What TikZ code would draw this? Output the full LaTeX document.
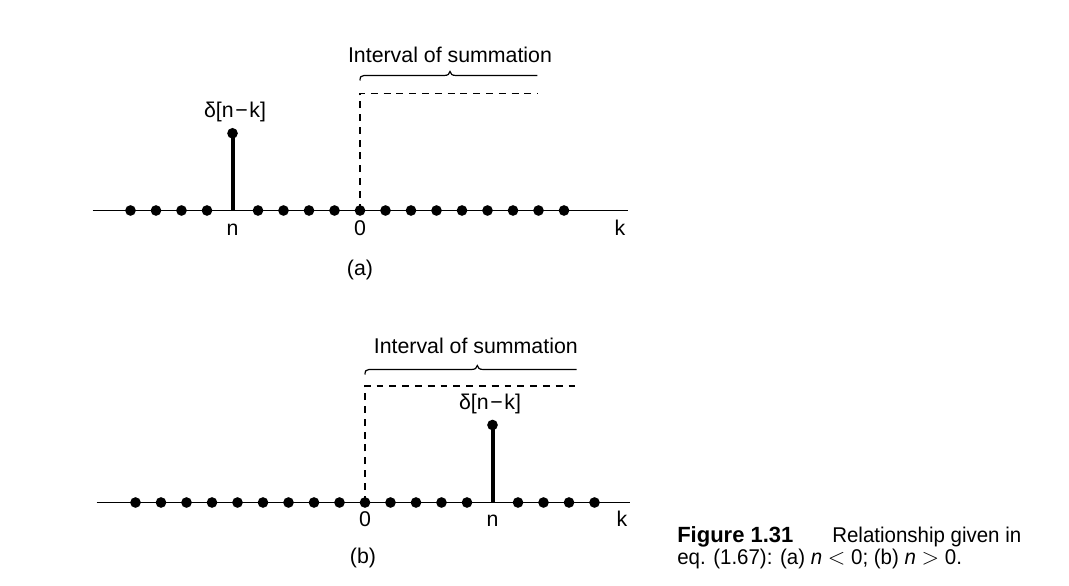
\documentclass[tikz,border=0pt]{standalone}
\usepackage{fontspec}
\setmainfont{Liberation Sans}
\newfontfamily\capfont[FakeStretch=0.96]{Liberation Sans}
\begin{document}
\begin{tikzpicture}[x=0.75pt,y=-0.75pt,
  axis/.style={line width=1.1pt},
  dot/.style={circle,fill=black,inner sep=0pt,minimum size=8pt},
  stemline/.style={line width=3pt},
  dashline/.style={line width=0.9pt,dash pattern=on 5.2pt off 4.4pt},
  braceline/.style={line width=0.9pt},
  lab/.style={font=\fontsize{16}{19}\selectfont,inner sep=0pt},
  capreg/.style={font=\fontsize{16}{19}\capfont,inner sep=0pt,anchor=base west},
  capbold/.style={font=\fontsize{16.5}{19}\selectfont\bfseries,inner sep=0pt,anchor=base west},
]
\useasboundingbox (0,0) rectangle (1069,585);

% ---------------- panel (a) ----------------
\coordinate (aL) at (92.7,210.5);
\coordinate (aR) at (628,210.5);
\draw[axis] (aL) -- (aR);
\foreach \k in {-9,...,8}{
  \ifnum\k=-5\relax\else
    \node[dot] (ad\k) at ({360+25.5*\k},210.5) {};
  \fi
}
\coordinate (astemb) at (232.5,210.5);
\node[dot] (astem) at (232.5,133.3) {};
\draw[stemline] (astemb) -- (astem.center);
\node[lab] (adelta) at (235,112) {δ[n\hspace{1.2pt}−\hspace{1.2pt}k]};
\node[lab,anchor=base] (an) at (232.5,235) {n};
\node[lab,anchor=base] (azero) at (360,235) {0};
\node[lab,anchor=base] (ak) at (620,235) {k};
\node[lab] (acap) at (360,270) {(a)};
\coordinate (adb) at (360,210.5);
\coordinate (adc) at (360,93.3);
\coordinate (ade) at (538.3,93.3);
\draw[dashline] (adb) -- (adc) -- (ade);
\draw[braceline] (360,80.5) .. controls (360,77) and (361,75.5) .. (364,75.5)
  -- (444,75.5) .. controls (448,75.5) and (449.5,74) .. (450,71.5)
  .. controls (450.5,74) and (452,75.5) .. (456,75.5) -- (537.3,75.5);
\node[lab,anchor=base] (aint) at (450,62.7) {Interval of summation};

% ---------------- panel (b) ----------------
\coordinate (bL) at (96.7,502.5);
\coordinate (bR) at (630,502.5);
\draw[axis] (bL) -- (bR);
\foreach \k in {-9,...,9}{
  \ifnum\k=5\relax\else
    \node[dot] (bd\k) at ({365+25.5*\k},502.5) {};
  \fi
}
\coordinate (bstemb) at (492.5,502.5);
\node[dot] (bstem) at (492.5,425) {};
\draw[stemline] (bstemb) -- (bstem.center);
\node[lab] (bdelta) at (490,404) {δ[n\hspace{1.2pt}−\hspace{1.2pt}k]};
\node[lab,anchor=base] (bzero) at (365,526) {0};
\node[lab,anchor=base] (bn) at (492.5,526) {n};
\node[lab,anchor=base] (bk) at (622,526) {k};
\node[lab] (bcap) at (363,558) {(b)};
\coordinate (bdb) at (365,502.5);
\coordinate (bdc) at (365,386);
\coordinate (bde) at (578.3,386);
\draw[dashline] (bdb) -- (bdc) -- (bde);
\draw[braceline] (365,374.5) .. controls (365,371) and (366,369.5) .. (369,369.5)
  -- (471.3,369.5) .. controls (475.3,369.5) and (476.8,368) .. (477.3,365.5)
  .. controls (477.8,368) and (479.3,369.5) .. (483.3,369.5) -- (576.7,369.5);
\node[lab,anchor=base] (bint) at (475.8,353.3) {Interval of summation};

% ---------------- caption ----------------
\node[capbold] (fig) at (677,542.5) {Figure 1.31};
\node[capreg] (rel) at (832,542.5) {Relationship given in};
\node[capreg] (eqline) at (677,564.5) {eq. (1.67): (a) {\itshape n} $<$ 0; (b) {\itshape n} $>$ 0.};
\end{tikzpicture}
\end{document}
